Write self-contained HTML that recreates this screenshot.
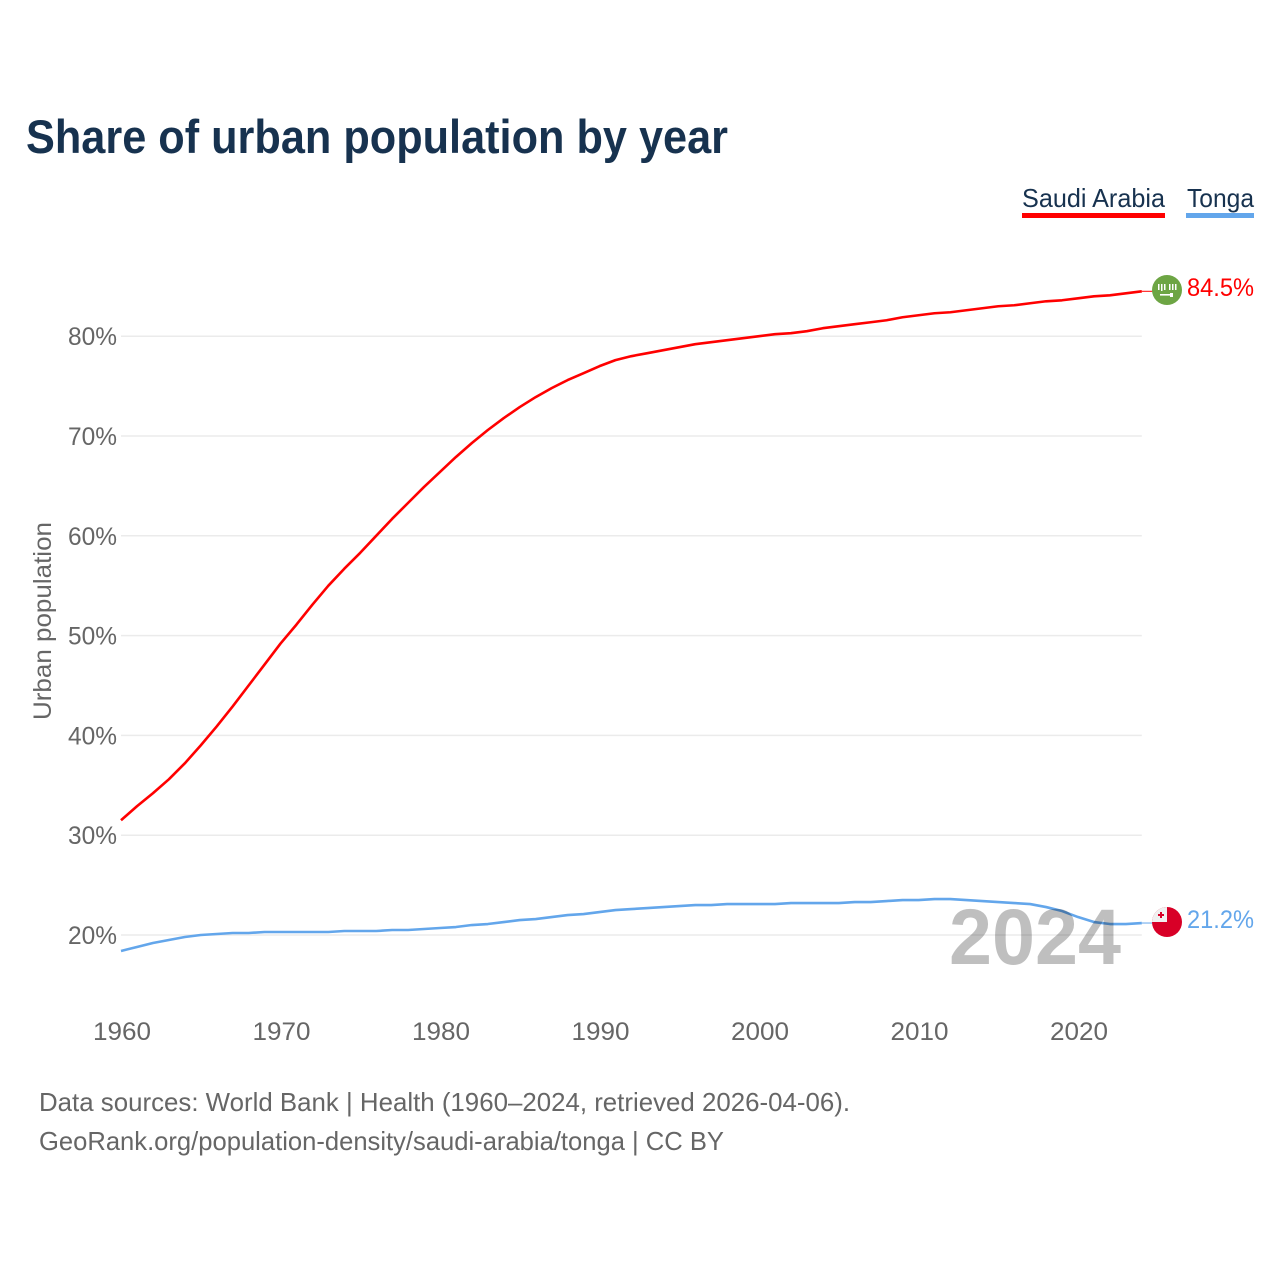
<!DOCTYPE html>
<html lang="en">
<head>
<meta charset="utf-8">
<title>Share of urban population by year</title>
<style>
html,body{margin:0;padding:0;background:#fff;}
svg{display:block;}
text{font-family:"Liberation Sans",sans-serif;}
</style>
</head>
<body>
<svg id="chart" xmlns="http://www.w3.org/2000/svg" width="1280" height="1280" viewBox="0 0 1280 1280">
  <rect width="1280" height="1280" fill="#fff"/>
  <text x="26" y="153" font-size="47" font-weight="700" fill="#17324f" textLength="702" lengthAdjust="spacingAndGlyphs">Share of urban population by year</text>

  <g>
    <text x="1022" y="207" font-size="26" fill="#17324f" textLength="143" lengthAdjust="spacingAndGlyphs">Saudi Arabia</text>
    <rect x="1022" y="213" width="143" height="5" fill="#ff0000"/>
  </g>
  <g>
    <text x="1187" y="207" font-size="26" fill="#17324f" textLength="67" lengthAdjust="spacingAndGlyphs">Tonga</text>
    <rect x="1186" y="213" width="68" height="5" fill="#63a6eb"/>
  </g>

  <text transform="translate(51,621) rotate(-90)" text-anchor="middle" font-size="25" fill="#666" textLength="198" lengthAdjust="spacingAndGlyphs">Urban population</text>

  <g id="grid"></g>
  <g id="yticks"></g>
  <g id="xticks"></g>
  <g id="series"></g>

  <text x="1121" y="964" text-anchor="end" font-size="79" font-weight="700" fill="#000" fill-opacity="0.25" textLength="172" lengthAdjust="spacingAndGlyphs">2024</text>

  <g id="flag-saudi">
    <circle cx="1167" cy="290" r="15" fill="#6da544"/>
    <g fill="#fff">
      <rect x="1158" y="284" width="1.5" height="6"/>
      <rect x="1161" y="284" width="1.5" height="7"/>
      <rect x="1164" y="284" width="1.5" height="6"/>
      <rect x="1169" y="284" width="1.5" height="6"/>
      <rect x="1172" y="284" width="1.5" height="6"/>
      <rect x="1175" y="284" width="1.5" height="6"/>
      <rect x="1160" y="294" width="12" height="1.6"/>
      <rect x="1170" y="293" width="3" height="4"/>
    </g>
  </g>
  <g id="flag-tonga">
    <circle cx="1167" cy="922" r="15" fill="#d80027"/>
    <path d="M1167 922H1152A15 15 0 0 1 1167 907Z" fill="#f0f0f0"/>
    <rect x="1158" y="914" width="6" height="2" fill="#d80027"/>
    <rect x="1160" y="912" width="2" height="6" fill="#d80027"/>
  </g>

  <text x="39" y="1111" font-size="26" fill="#666" textLength="811" lengthAdjust="spacingAndGlyphs">Data sources: World Bank | Health (1960–2024, retrieved 2026-04-06).</text>
  <text x="39" y="1150" font-size="26" fill="#666" textLength="685" lengthAdjust="spacingAndGlyphs">GeoRank.org/population-density/saudi-arabia/tonga | CC BY</text>
</svg>
<script>
var years = [];
var yearStart = 1960;
var yearEnd = 2024;
var yTickValues = [20, 30, 40, 50, 60, 70, 80];
var xTickValues = [1960, 1970, 1980, 1990, 2000, 2010, 2020];
var saudiArabia = [31.5,32.9,34.2,35.6,37.2,39.0,40.9,42.9,45.0,47.1,49.2,51.1,53.1,55.0,56.7,58.3,60.0,61.7,63.3,64.9,66.4,67.9,69.3,70.6,71.8,72.9,73.9,74.8,75.6,76.3,77.0,77.6,78.0,78.3,78.6,78.9,79.2,79.4,79.6,79.8,80.0,80.2,80.3,80.5,80.8,81.0,81.2,81.4,81.6,81.9,82.1,82.3,82.4,82.6,82.8,83.0,83.1,83.3,83.5,83.6,83.8,84.0,84.1,84.3,84.5];
var tonga = [18.4,18.8,19.2,19.5,19.8,20.0,20.1,20.2,20.2,20.3,20.3,20.3,20.3,20.3,20.4,20.4,20.4,20.5,20.5,20.6,20.7,20.8,21.0,21.1,21.3,21.5,21.6,21.8,22.0,22.1,22.3,22.5,22.6,22.7,22.8,22.9,23.0,23.0,23.1,23.1,23.1,23.1,23.2,23.2,23.2,23.2,23.3,23.3,23.4,23.5,23.5,23.6,23.6,23.5,23.4,23.3,23.2,23.1,22.8,22.4,21.8,21.3,21.1,21.1,21.2];

for (var yr = yearStart; yr <= yearEnd; yr++) { years.push(yr); }

var NS = 'http://www.w3.org/2000/svg';
function xScale(year) { return 121 + (year - 1960) * 15.95; }
function yScale(value) { return 935 - (value - 20) * 9.98; }
function make(tag, attrs, parent) {
  var el = document.createElementNS(NS, tag);
  for (var k in attrs) { el.setAttribute(k, attrs[k]); }
  parent.appendChild(el);
  return el;
}

var gridG = document.getElementById('grid');
var yG = document.getElementById('yticks');
var xG = document.getElementById('xticks');
var seriesG = document.getElementById('series');

yTickValues.forEach(function (v) {
  var line = make('line', {x1: xScale(yearStart), x2: xScale(yearEnd), y1: yScale(v), y2: yScale(v), stroke: '#ebebeb', 'stroke-width': 1.5}, gridG);
  
  
  var t = make('text', {x: 117, y: yScale(v) + 9, 'text-anchor': 'end', 'font-size': 25, fill: '#666', textLength: 49, lengthAdjust: 'spacingAndGlyphs'}, yG);
  t.textContent = v + '%';
  
  
});

xTickValues.forEach(function (yr) {
  var t = make('text', {x: xScale(yr) + 1, y: 1040, 'text-anchor': 'middle', 'font-size': 25, fill: '#666', textLength: 58, lengthAdjust: 'spacingAndGlyphs'}, xG);
  t.textContent = yr;
  
  
});

function drawSeries(values, color, lineName, valueName, labelY) {
  var d = values.map(function (v, i) {
    return (i ? 'L' : 'M') + xScale(years[i]).toFixed(2) + ' ' + yScale(v).toFixed(2);
  }).join(' ');
  var path = make('path', {d: d, fill: 'none', stroke: color, 'stroke-width': 2.6, 'stroke-linejoin': 'round'}, seriesG);
  
  
  var last = values[values.length - 1];
  var conn = make('line', {x1: xScale(yearEnd), x2: 1153, y1: yScale(last), y2: yScale(last), stroke: color, 'stroke-width': 1}, seriesG);
  
  
  var label = make('text', {x: 1187, y: labelY, 'font-size': 25, fill: color, textLength: 67, lengthAdjust: 'spacingAndGlyphs'}, seriesG);
  label.textContent = last.toFixed(1) + '%';
  
  
}

drawSeries(saudiArabia, '#ff0000', 'line-saudi-arabia', 'value-label-saudi-arabia', 296);
drawSeries(tonga, '#63a6eb', 'line-tonga', 'value-label-tonga', 928);
</script>
</body>
</html>
